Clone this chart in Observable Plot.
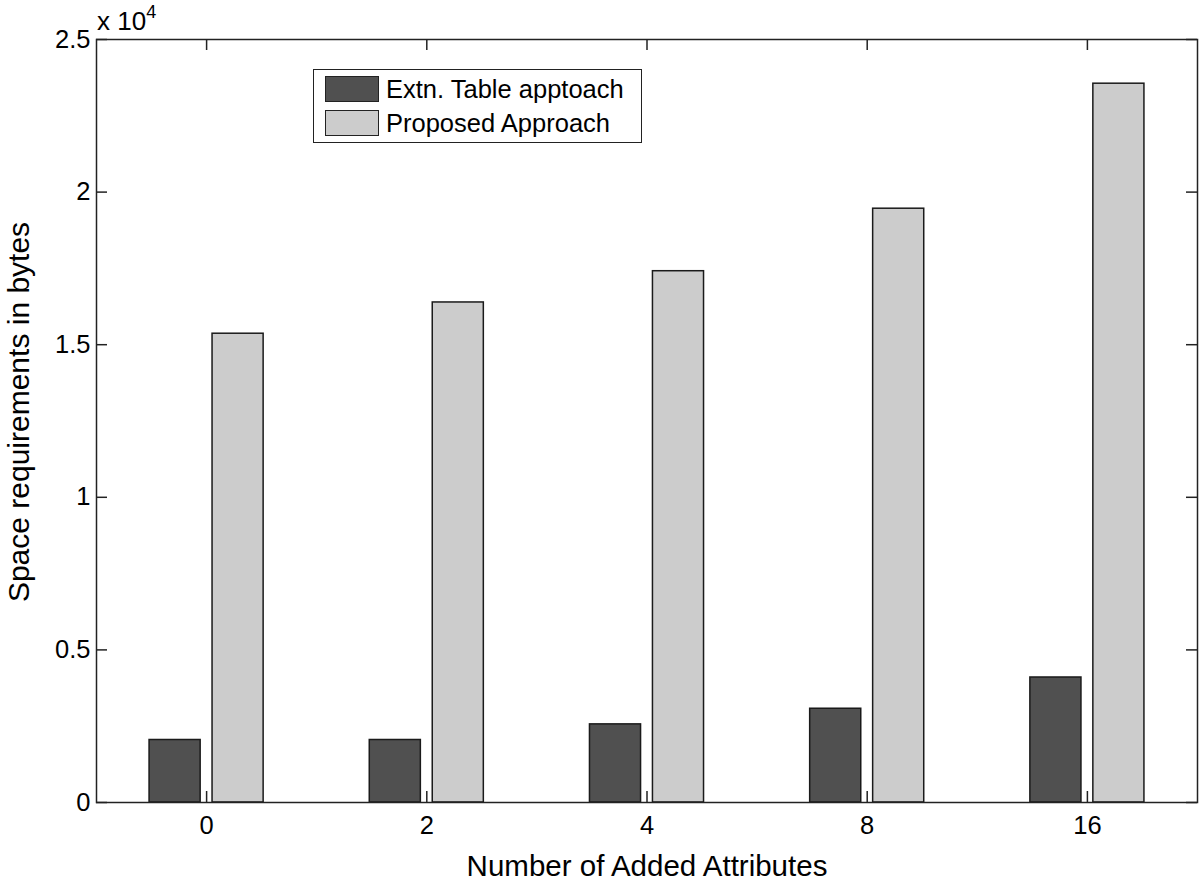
<!DOCTYPE html>
<html>
<head>
<meta charset="utf-8">
<script src="https://cdn.jsdelivr.net/npm/d3@7"></script>
<script src="https://cdn.jsdelivr.net/npm/@observablehq/plot@0.6"></script>
<style>
  html, body { margin: 0; padding: 0; background: #fff; }
  #wrap { position: relative; width: 1200px; height: 883px; font-family: "Liberation Sans", Arial, sans-serif; color: #000; }
  #legend { position: absolute; left: 313px; top: 69px; width: 327px; height: 72px; border: 1.5px solid #222; background: #fff; }
  .item { position: absolute; left: 11px; height: 26px; display: flex; align-items: center; }
  .sw { width: 54px; height: 26px; border: 1.5px solid #222; box-sizing: border-box; margin-right: 7px; }
  .lt { font-size: 25.5px; line-height: 26px; white-space: nowrap; }
  #expo { position: absolute; left: 97px; top: 6px; font-size: 26px; white-space: nowrap; }
  #expo sup { font-size: 18px; position: relative; top: -4px; vertical-align: top; }
</style>
</head>
<body>
<div id="wrap"></div>
<script>
// ---- data ----
const categories = ["0", "2", "4", "8", "16"];
const seriesNames = ["Extn. Table apptoach", "Proposed Approach"];
const extnTable = [2048, 2048, 2560, 3072, 4096];
const proposed = [15360, 16384, 17408, 19456, 23552];
const yTicks = [0, 5000, 10000, 15000, 20000, 25000];
const colors = ["#505050", "#cccccc"];

const rows = categories.flatMap((c, i) => [
  {cat: c, pos: i + 1, s: 0, series: seriesNames[0], value: extnTable[i]},
  {cat: c, pos: i + 1, s: 1, series: seriesNames[1], value: proposed[i]}
]);
const groupPos = categories.map((c, i) => i + 1);

// bar layout within a group (in group units)
const gap = 0.027, bw = 0.232;
const x1 = d => d.s === 0 ? d.pos - gap - bw : d.pos + gap;
const x2 = d => d.s === 0 ? d.pos - gap : d.pos + gap + bw;

const W = 1200, H = 883, mL = 96, mR = 3, mT = 39, mB = 81;
const fw = W - mL - mR, fh = H - mT - mB, tl = 11;

const chart = Plot.plot({
  width: W, height: H,
  marginLeft: mL, marginRight: mR, marginTop: mT, marginBottom: mB,
  style: {fontFamily: "'Liberation Sans', Arial, sans-serif", fontSize: "25px", color: "#000", background: "#fff"},
  x: {type: "linear", domain: [0.5, 5.5], axis: null},
  y: {domain: [0, 25000], axis: null},
  color: {domain: seriesNames, range: colors},
  marks: [
    Plot.rectY(rows, {x1, x2, y1: 0, y2: "value", fill: "series", stroke: "#1a1a1a", strokeWidth: 1.5}),
    // inward ticks
    Plot.tickY(yTicks, {y: d => d, insetRight: fw - tl, stroke: "#222", strokeWidth: 1.5}),
    Plot.tickY(yTicks, {y: d => d, insetLeft: fw - tl, stroke: "#222", strokeWidth: 1.5}),
    Plot.tickX(groupPos, {x: d => d, insetTop: fh - tl, stroke: "#222", strokeWidth: 1.5}),
    Plot.tickX(groupPos, {x: d => d, insetBottom: fh - tl, stroke: "#222", strokeWidth: 1.5}),
    Plot.frame({stroke: "#222", strokeWidth: 1.5}),
    Plot.axisY({ticks: yTicks, tickSize: 0, tickPadding: 6, fontSize: 25.5, tickFormat: d => String(d / 10000), label: null}),
    Plot.axisX({ticks: groupPos, tickSize: 0, tickPadding: 13, fontSize: 25.5, tickFormat: d => categories[d - 1], label: null}),
    Plot.text(["Number of Added Attributes"], {frameAnchor: "bottom", lineAnchor: "middle", textAnchor: "middle", dy: 64, fontSize: 29.5, fill: "#000"}),
    Plot.text(["Space requirements in bytes"], {frameAnchor: "left", lineAnchor: "middle", textAnchor: "middle", rotate: -90, dx: -77, dy: -9, fontSize: 30, fill: "#000"})
  ]
});

const wrap = document.getElementById("wrap");
wrap.appendChild(chart);

const expo = document.createElement("div");
expo.id = "expo";
expo.innerHTML = "x 10<sup>4</sup>";
wrap.appendChild(expo);

const legend = document.createElement("div");
legend.id = "legend";
seriesNames.forEach((name, i) => {
  const it = document.createElement("div");
  it.className = "item";
  it.style.top = (6 + i * 34) + "px";
  const sw = document.createElement("div");
  sw.className = "sw";
  sw.style.background = colors[i];
  const t = document.createElement("span");
  t.className = "lt";
  t.textContent = name;
  it.appendChild(sw); it.appendChild(t);
  legend.appendChild(it);
});
wrap.appendChild(legend);
</script>
</body>
</html>
